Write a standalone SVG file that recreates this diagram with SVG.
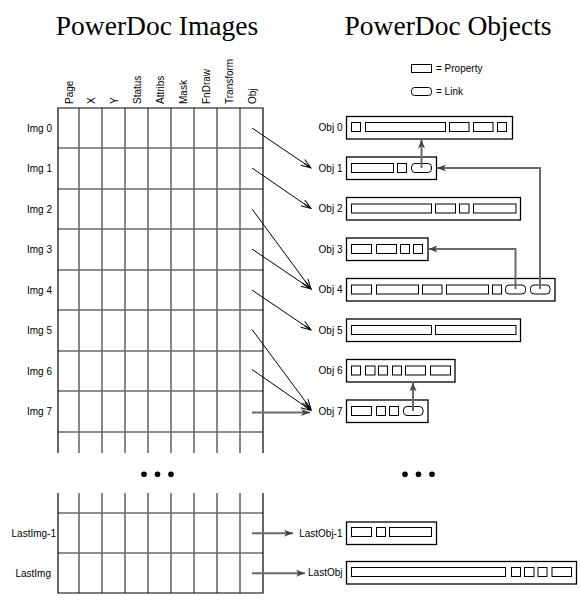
<svg xmlns="http://www.w3.org/2000/svg" width="580" height="606" viewBox="0 0 580 606">
<style>
.title{font-family:"Liberation Serif","Times New Roman",serif;font-size:27.5px;fill:#000}
.lbl{font-family:"Liberation Sans",Arial,sans-serif;font-size:10px;fill:#000}
.r{text-anchor:end}
.border{stroke:#000;stroke-width:1.2;fill:none}
.gl{stroke:#6a6a6a;stroke-width:1.6;fill:none}
.box{fill:#fff;stroke:#000;stroke-width:1.3}
.p{fill:none;stroke:#000;stroke-width:1}
.ptr{stroke:#000;stroke-width:1;fill:none;marker-end:url(#openArrow)}
.lnk{stroke:#6a6a6a;stroke-width:2;fill:none;marker-end:url(#fillArrow)}
.dot{fill:#000}
</style>
<defs>
<marker id="openArrow" markerUnits="userSpaceOnUse" markerWidth="12" markerHeight="10" refX="10" refY="4" orient="auto" overflow="visible">
<path d="M0,0.5 L10,4 L0,7.5 M2,4 L10,4" fill="none" stroke="#000" stroke-width="1"/>
</marker>
<marker id="fillArrow" markerUnits="userSpaceOnUse" markerWidth="12" markerHeight="10" refX="9" refY="3.5" orient="auto" overflow="visible">
<path d="M0,0 L9,3.5 L0,7 L2.5,3.5 z" fill="#444"/>
</marker>
</defs>
<rect width="580" height="606" fill="#fff"/>

<text class="title" x="157" y="35" text-anchor="middle">PowerDoc Images</text>
<text class="title" x="448" y="35" text-anchor="middle">PowerDoc Objects</text>

<g id="legend">
<rect class="p" x="411.5" y="64.5" width="20" height="8"/>
<text class="lbl" x="436" y="72">= Property</text>
<rect class="p" x="411.5" y="87.5" width="20" height="8" rx="3"/>
<text class="lbl" x="436" y="95">= Link</text>
</g>

<g id="image-table">
<g id="headers" class="lbl">
<text transform="translate(72.5,104) rotate(-90)">Page</text>
<text transform="translate(94.5,104) rotate(-90)">X</text>
<text transform="translate(117.5,104) rotate(-90)">Y</text>
<text transform="translate(140.5,104) rotate(-90)">Status</text>
<text transform="translate(163.5,104) rotate(-90)">Attribs</text>
<text transform="translate(186.5,104) rotate(-90)">Mask</text>
<text transform="translate(209.5,104) rotate(-90)">FnDraw</text>
<text transform="translate(232.5,104) rotate(-90)">Transform</text>
<text transform="translate(255.5,104) rotate(-90)">Obj</text>
</g>
<g id="upper-grid">
<path class="gl" d="M79,108V453 M102,108V453 M125,108V453 M148,108V453 M171,108V453 M194,108V453 M217,108V453 M240,108V453"/>
<path class="gl" d="M58,148H263 M58,189H263 M58,229H263 M58,270H263 M58,310H263 M58,351H263 M58,391H263 M58,432H263"/>
<path class="border" d="M58,453V108H263V453"/>
</g>
<g id="lower-grid">
<path class="gl" d="M79,493V593 M102,493V593 M125,493V593 M148,493V593 M171,493V593 M194,493V593 M217,493V593 M240,493V593"/>
<path class="gl" d="M58,513H263 M58,553H263"/>
<path class="border" d="M58,493V593H263V493"/>
</g>
<g id="row-labels" class="lbl r">
<text x="52" y="131.7">Img 0</text>
<text x="52" y="172.2">Img 1</text>
<text x="52" y="212.7">Img 2</text>
<text x="52" y="253.2">Img 3</text>
<text x="52" y="293.7">Img 4</text>
<text x="52" y="334.2">Img 5</text>
<text x="52" y="374.7">Img 6</text>
<text x="52" y="415.2">Img 7</text>
<text x="56" y="536.7">LastImg-1</text>
<text x="51" y="576.7">LastImg</text>
</g>
</g>

<g id="ellipsis">
<circle class="dot" cx="144" cy="474.3" r="2.8"/>
<circle class="dot" cx="157.5" cy="474.3" r="2.8"/>
<circle class="dot" cx="171" cy="474.3" r="2.8"/>
<circle class="dot" cx="405" cy="474.3" r="2.8"/>
<circle class="dot" cx="418.5" cy="474.3" r="2.8"/>
<circle class="dot" cx="432" cy="474.3" r="2.8"/>
</g>

<g id="obj0">
<text class="lbl r" x="342.5" y="131.2">Obj 0</text>
<rect class="box" x="346.5" y="116.5" width="166" height="22.5"/>
<rect class="p" x="351.5" y="122.5" width="9" height="9"/>
<rect class="p" x="365.5" y="122.5" width="80" height="9"/>
<rect class="p" x="449.5" y="122.5" width="19.5" height="9"/>
<rect class="p" x="473.5" y="122.5" width="19.5" height="9"/>
<rect class="p" x="497.5" y="122.5" width="9" height="9"/>
</g>
<g id="obj1">
<text class="lbl r" x="342.5" y="171.7">Obj 1</text>
<rect class="box" x="346.5" y="157" width="90" height="22.5"/>
<rect class="p" x="351.5" y="163.5" width="42" height="9"/>
<rect class="p" x="397.5" y="163.5" width="9" height="9"/>
<rect class="p" x="411.5" y="163.5" width="20" height="9" rx="3.5"/>
</g>
<g id="obj2">
<text class="lbl r" x="342.5" y="212.2">Obj 2</text>
<rect class="box" x="346.5" y="197.5" width="174" height="22.5"/>
<rect class="p" x="351.5" y="204" width="80" height="9"/>
<rect class="p" x="435.5" y="204" width="20" height="9"/>
<rect class="p" x="459.5" y="204" width="9.5" height="9"/>
<rect class="p" x="473.5" y="204" width="42.5" height="9"/>
</g>
<g id="obj3">
<text class="lbl r" x="342.5" y="252.7">Obj 3</text>
<rect class="box" x="346.5" y="238" width="81.5" height="22.5"/>
<rect class="p" x="351.5" y="244.5" width="20" height="9"/>
<rect class="p" x="376.5" y="244.5" width="20" height="9"/>
<rect class="p" x="400.5" y="244.5" width="9" height="9"/>
<rect class="p" x="413.5" y="244.5" width="9" height="9"/>
</g>
<g id="obj4">
<text class="lbl r" x="342.5" y="293.2">Obj 4</text>
<rect class="box" x="346.5" y="278.5" width="208.5" height="22.5"/>
<rect class="p" x="351.5" y="285" width="20" height="9"/>
<rect class="p" x="376.5" y="285" width="42" height="9"/>
<rect class="p" x="422.5" y="285" width="19.5" height="9"/>
<rect class="p" x="446.5" y="285" width="42" height="9"/>
<rect class="p" x="492.5" y="285" width="9" height="9"/>
<rect class="p" x="505.5" y="285" width="20" height="9" rx="3.5"/>
<rect class="p" x="530.5" y="285" width="19.5" height="9" rx="3.5"/>
</g>
<g id="obj5">
<text class="lbl r" x="342.5" y="333.7">Obj 5</text>
<rect class="box" x="346.5" y="319" width="174" height="22.5"/>
<rect class="p" x="351.5" y="325.5" width="80" height="9"/>
<rect class="p" x="435.5" y="325.5" width="80.5" height="9"/>
</g>
<g id="obj6">
<text class="lbl r" x="342.5" y="374.2">Obj 6</text>
<rect class="box" x="346.5" y="359.5" width="108.5" height="22.5"/>
<rect class="p" x="351.5" y="366" width="9" height="9"/>
<rect class="p" x="365.5" y="366" width="9.5" height="9"/>
<rect class="p" x="378.5" y="366" width="9" height="9"/>
<rect class="p" x="392.5" y="366" width="9" height="9"/>
<rect class="p" x="405.5" y="366" width="20" height="9"/>
<rect class="p" x="430.5" y="366" width="20" height="9"/>
</g>
<g id="obj7">
<text class="lbl r" x="342.5" y="414.7">Obj 7</text>
<rect class="box" x="346.5" y="400" width="81.5" height="22.5"/>
<rect class="p" x="351.5" y="406.5" width="20" height="9"/>
<rect class="p" x="376.5" y="406.5" width="9" height="9"/>
<rect class="p" x="389.5" y="406.5" width="9" height="9"/>
<rect class="p" x="403.5" y="406.5" width="19.5" height="9" rx="3.5"/>
</g>
<g id="lastobj-1">
<text class="lbl r" x="342.5" y="536.7">LastObj-1</text>
<rect class="box" x="346.5" y="522" width="90" height="22.5"/>
<rect class="p" x="351.5" y="527.5" width="20" height="9"/>
<rect class="p" x="376.5" y="527.5" width="9" height="9"/>
<rect class="p" x="389.5" y="527.5" width="42" height="9"/>
</g>
<g id="lastobj">
<text class="lbl r" x="342.5" y="576.4">LastObj</text>
<rect class="box" x="346.5" y="561.5" width="230" height="22.5"/>
<rect class="p" x="351.5" y="567.5" width="154" height="9"/>
<rect class="p" x="511.5" y="567.5" width="9" height="9"/>
<rect class="p" x="524.5" y="567.5" width="9.5" height="9"/>
<rect class="p" x="538" y="567.5" width="9" height="9"/>
<rect class="p" x="552" y="567.5" width="19.5" height="9"/>
</g>

<g id="connectors">
<path class="ptr" d="M252,128L311,168"/>
<path class="ptr" d="M252,168L311,208.5"/>
<path class="ptr" d="M252,209L311,289"/>
<path class="ptr" d="M252,249L311,289"/>
<path class="ptr" d="M252,290L311,330"/>
<path class="ptr" d="M252,329.5L311,409"/>
<path class="ptr" d="M252,369.5L311,410.5"/>
<path class="lnk" d="M252,412.5H310"/>
<path class="lnk" d="M252,533.3H293"/>
<path class="lnk" d="M252,573.3H305"/>
<path class="lnk" d="M421.5,168V139.5"/>
<path class="lnk" d="M540,289V168H437"/>
<path class="lnk" d="M515.5,289V249H428.5"/>
<path class="lnk" d="M413,411V382.5"/>
</g>
</svg>
